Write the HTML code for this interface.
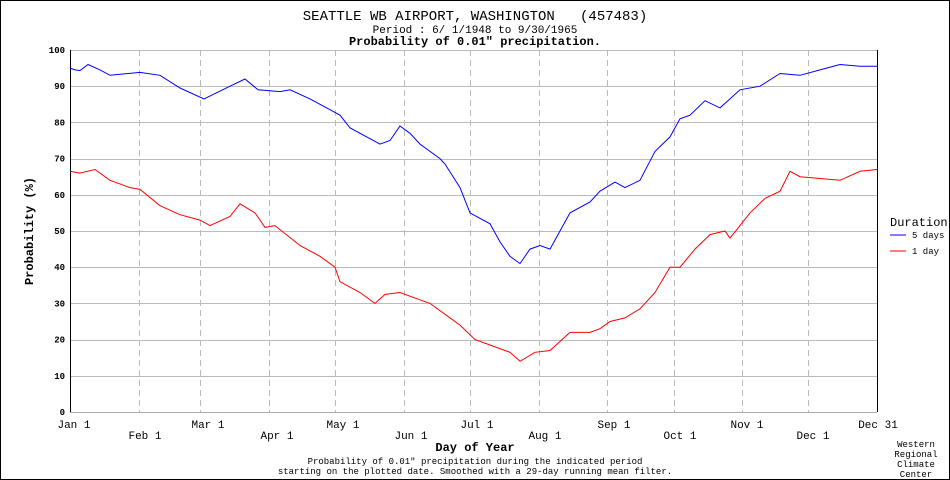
<!DOCTYPE html>
<html><head><meta charset="utf-8"><style>
body{margin:0;background:#fff}
svg{display:block;font-family:"Liberation Mono",monospace}
</style></head><body>
<svg id="s" width="950" height="480" viewBox="0 0 950 480" xmlns="http://www.w3.org/2000/svg">
<rect x="0.5" y="0.5" width="949" height="479" fill="#fff" stroke="#000"/>
<text x="475" y="20" font-size="14" text-anchor="middle" xml:space="preserve">SEATTLE WB AIRPORT, WASHINGTON   (457483)</text>
<text x="475" y="33" font-size="11" text-anchor="middle">Period : 6/ 1/1948 to 9/30/1965</text>
<text x="475" y="45" font-size="12" font-weight="bold" text-anchor="middle">Probability of 0.01" precipitation.</text>
<g id="grid" stroke="#bbb" stroke-width="1"></g>
<line x1="70.5" y1="50" x2="70.5" y2="412" stroke="#000"/>
<line x1="877.5" y1="50" x2="877.5" y2="412" stroke="#000"/>
<line x1="70" y1="412.5" x2="877" y2="412.5" stroke="#aaa"/>
<g id="yl" font-size="9" font-weight="bold" text-anchor="end"></g>
<g font-size="11" text-anchor="middle">
<text x="74" y="428">Jan 1</text><text x="145" y="439">Feb 1</text><text x="208" y="428">Mar 1</text>
<text x="277" y="439">Apr 1</text><text x="343" y="428">May 1</text><text x="411" y="439">Jun 1</text>
<text x="477" y="428">Jul 1</text><text x="545" y="439">Aug 1</text><text x="614" y="428">Sep 1</text>
<text x="680" y="439">Oct 1</text><text x="747" y="428">Nov 1</text><text x="813" y="439">Dec 1</text>
<text x="878" y="428">Dec 31</text>
</g>
<text x="475" y="451" font-size="12" font-weight="bold" text-anchor="middle">Day of Year</text>
<text x="475" y="464" font-size="9" text-anchor="middle">Probability of 0.01" precipitation during the indicated period</text>
<text x="475" y="474" font-size="9" text-anchor="middle">starting on the plotted date. Smoothed with a 29-day running mean filter.</text>
<text transform="translate(33,231) rotate(-90)" font-size="12" font-weight="bold" text-anchor="middle">Probability (%)</text>
<g font-size="9" text-anchor="middle"><text x="916" y="447">Western</text><text x="916" y="457">Regional</text><text x="916" y="467">Climate</text><text x="916" y="477">Center</text></g>
<text x="890" y="226" font-size="12">Duration</text>
<line x1="890" y1="235" x2="906" y2="235" stroke="#00f"/><text x="912" y="238" font-size="9">5 days</text>
<line x1="890" y1="251" x2="906" y2="251" stroke="#f00"/><text x="912" y="254" font-size="9">1 day</text>
<polyline id="b" fill="none" stroke="#00f" stroke-width="1"/>
<polyline id="r" fill="none" stroke="#f00" stroke-width="1"/>
</svg>
<script>
var ns="http://www.w3.org/2000/svg",g=document.getElementById('grid'),yl=document.getElementById('yl');
function Y(v){return 412-v*3.62;}
for(var v=10;v<=100;v+=10){var l=document.createElementNS(ns,'line');l.setAttribute('x1',70);l.setAttribute('x2',877);l.setAttribute('y1',Math.round(Y(v))+.5);l.setAttribute('y2',Math.round(Y(v))+.5);g.appendChild(l);}
for(var v=0;v<=100;v+=10){var t=document.createElementNS(ns,'text');t.setAttribute('x',65);t.setAttribute('y',Y(v)+3);t.textContent=v;yl.appendChild(t);}
[31,59,90,120,151,181,212,243,273,304,334].forEach(function(d){var x=Math.round(70+d*2.211)+.5;var l=document.createElementNS(ns,'line');l.setAttribute('x1',x);l.setAttribute('x2',x);l.setAttribute('y1',50);l.setAttribute('y2',412);l.setAttribute('stroke-dasharray','6,4');g.appendChild(l);});
var B=[70,95,75,94.5,80,94.3,88,96,100,94.5,110,93,140,93.8,160,93,180,89.5,204,86.5,230,90,245,92,258,89,280,88.5,290,89,310,86.5,330,83.5,340,82,350,78.5,370,75.5,380,74,390,75,400,79,410,77,420,74,440,70,445,68.5,460,62,470,55,490,52,500,47,510,43,520,41,530,45,540,46,550,45,560,50,570,55,590,58,600,61,615,63.5,625,62,640,64,655,72,670,76,680,81,690,82,705,86,720,84,740,89,760,90,780,93.5,800,93,820,94.5,840,96,860,95.5,877,95.5];
var R=[70,66.5,80,66,95,67,110,64,130,62,140,61.5,160,57,180,54.5,200,53,210,51.5,230,54,240,57.5,255,55,265,51,275,51.5,300,46,320,43,335,40,340,36,360,33,375,30,385,32.5,400,33,410,32,430,30,445,27,460,24,475,20,490,18.5,510,16.5,520,14,535,16.5,550,17,570,22,590,22,600,23,610,25,625,26,640,28.5,655,33,670,40,680,40,695,45,710,49,725,50,730,48,750,55,765,59,780,61,790,66.5,800,65,820,64.5,840,64,860,66.5,877,67];
function pts(a){var s=[];for(var i=0;i<a.length;i+=2)s.push(a[i]+','+Y(a[i+1]).toFixed(1));return s.join(' ');}
document.getElementById('b').setAttribute('points',pts(B));
document.getElementById('r').setAttribute('points',pts(R));
</script>
</body></html>
